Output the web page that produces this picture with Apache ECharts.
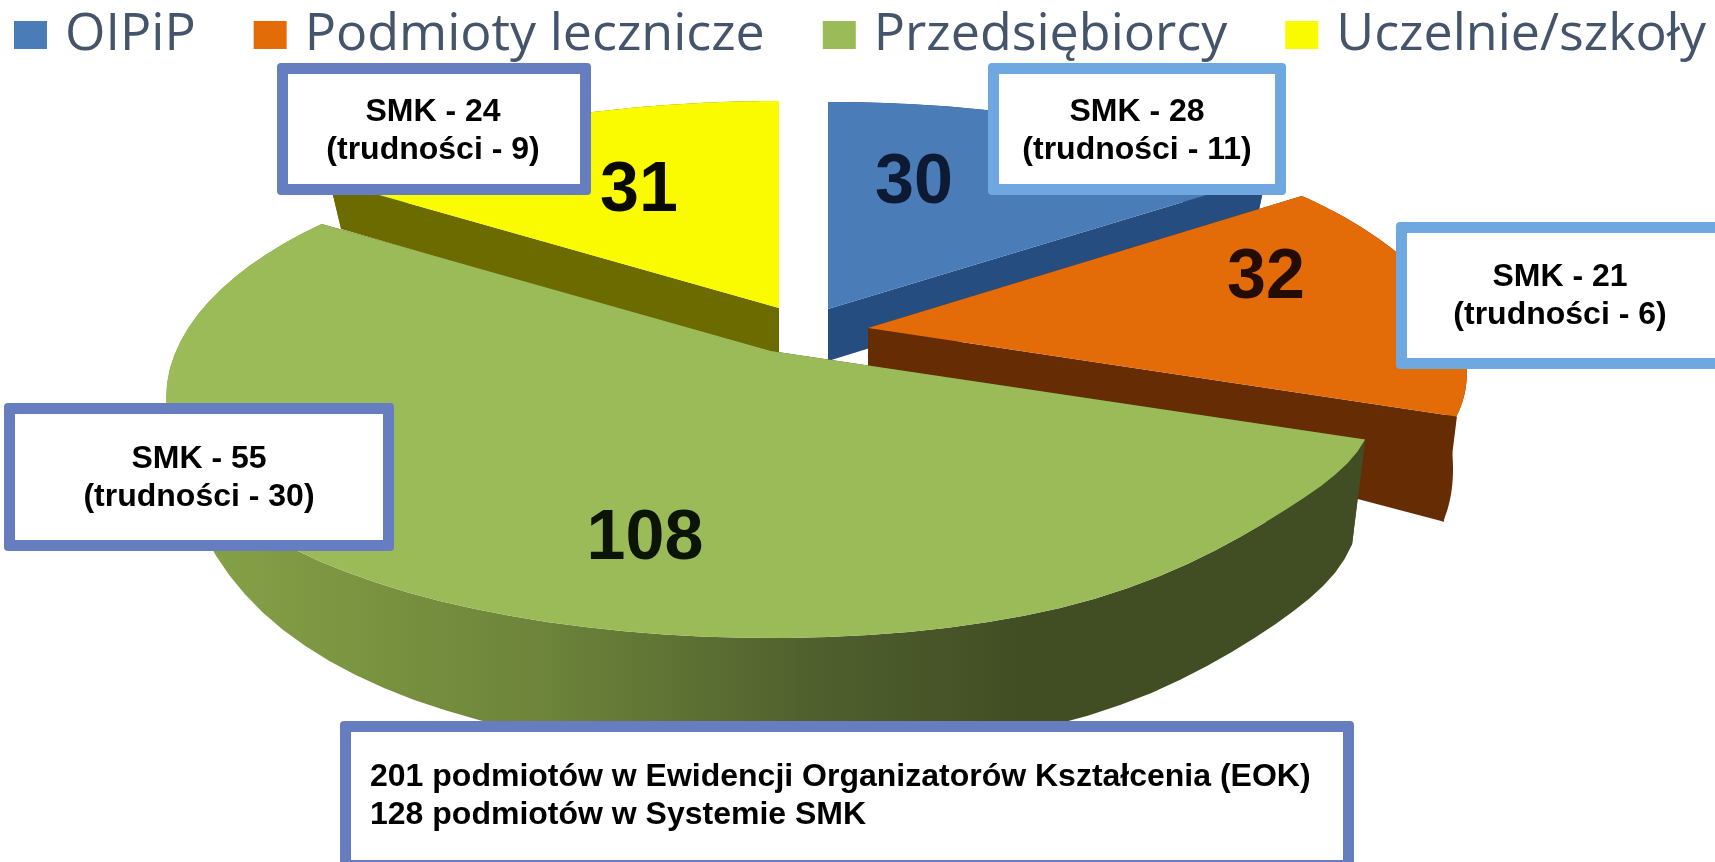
<!DOCTYPE html>
<html>
<head>
<meta charset="utf-8">
<style>html,body{margin:0;padding:0;background:#fff}#c{width:1715px;height:862px}</style>
<script src="https://cdn.jsdelivr.net/npm/echarts@6/dist/echarts.min.js"></script>
</head>
<body>
<div id="c"></div>
<script>
const categories = ['OIPiP', 'Podmioty lecznicze', 'Przedsiębiorcy', 'Uczelnie/szkoły'];
const values = [30, 32, 108, 31];
const smkCounts = [28, 21, 55, 24];
const difficulties = [11, 6, 30, 9];
const summaryLines = ['201 podmiotów w Ewidencji Organizatorów Kształcenia (EOK)', '128 podmiotów w Systemie SMK'];

const topColors = ['#4a7cb8', '#e36c09', '#9bbb59', '#fbfb00'];
const wallColors = ['#264d7f', '#662d04', '#414e24', '#6b6b00'];
const centers = [[828, 309], [868, 328], [771, 351], [779, 308]];
const spreads = [1, 0.99, 1, 1];
const wallBase = [52, 42, 42, 48];
const seriesZ = [2, 4, 5, 3];
const labelPos = [[914, 184], [1266, 279], [645, 540], [639, 192]];
const labelColors = ['#0c1a33', '#240c00', '#0b1405', '#0a0a00'];
const boxes = [
  {x: 988, y: 63, w: 298, h: 132, c: '#6fa8e0', tx: 1137, ty: [112, 150]},
  {x: 1396, y: 222, w: 330, h: 147, c: '#6fa8e0', tx: 1560, ty: [277, 315]},
  {x: 4, y: 403, w: 390, h: 148, c: '#667dc0', tx: 199, ty: [459, 497]},
  {x: 277, y: 63, w: 314, h: 132, c: '#667dc0', tx: 433, ty: [112, 150]}
];
const summaryBox = {x: 340, y: 721, w: 1014, h: 150, c: '#667dc0', tx: 370, ty: [777, 815]};

const total = values.reduce((a, b) => a + b, 0);
const clamp01 = t => Math.max(0, Math.min(1, t));
function topPoint(c, u, v, spread) {
  // the picture's view: a warped circle, with the front right of the rim slightly flattened
  const deg = Math.atan2(u, -v) * 180 / Math.PI;
  const flat = 18 * Math.exp(-Math.pow((deg - 131) / 18, 2));
  return [c[0] + spread * u * (595 + 105 * v + 30 * v * v), c[1] + 247 * v + 40 * v * v - flat];
}
function lowPoint(c, u, v, base, spread) {
  const p = topPoint(c, u, v, spread);
  const t = clamp01((1.3 * v + 0.4 * u) / 1.4);
  return [p[0] - 14 * u, p[1] + base + 75 * t * (2 - t)];
}
const greenSideFill = {
  type: 'linear', x: 158, y: 0, x2: 1360, y2: 0, global: true,
  colorStops: [
    {offset: 0, color: '#8aa74a'}, {offset: 0.04, color: '#85a146'},
    {offset: 0.32, color: '#6d843a'}, {offset: 0.55, color: '#4f5f2d'},
    {offset: 0.72, color: '#414e24'}, {offset: 1, color: '#414e24'}
  ]
};

function sliceRenderer(idx) {
  return function (params, api) {
    const before = values.slice(0, idx).reduce((a, b) => a + b, 0);
    const value = api.value(0);
    const a0 = before / total * 2 * Math.PI;
    const a1 = (before + value) / total * 2 * Math.PI;
    const c = centers[idx], base = wallBase[idx], spread = spreads[idx];
    const steps = 60, rim = [], low = [];
    for (let i = 0; i <= steps; i++) {
      const a = a0 + (a1 - a0) * i / steps;
      const u = Math.sin(a), v = -Math.cos(a);
      rim.push(topPoint(c, u, v, spread));
      low.push(lowPoint(c, u, v, base, spread));
    }
    const apexLow = [c[0], c[1] + base];
    const wall = wallColors[idx];
    const poly = (pts, fill) => ({type: 'polygon', shape: {points: pts}, style: {fill: fill}});
    const children = [
      poly([c, rim[0], low[0], apexLow], wall),
      poly([c, rim[steps], low[steps], apexLow], wall),
      poly(rim.concat(low.slice().reverse()), idx === 2 ? greenSideFill : wall)
    ];
    // close the hairline where the front radial wall meets the outer wall
    if (idx !== 2 && -Math.cos(a1) > 0) {
      children.push({
        type: 'line',
        shape: {x1: rim[steps][0], y1: rim[steps][1], x2: low[steps][0], y2: low[steps][1]},
        style: {stroke: wall, lineWidth: 1.5}
      });
    }
    children.push(poly([c].concat(rim), topColors[idx]));
    children.push({type: 'text', style: {
      text: String(value), x: labelPos[idx][0], y: labelPos[idx][1],
      align: 'center', verticalAlign: 'middle',
      font: 'bold 70px "Liberation Sans", Arial, sans-serif', fill: labelColors[idx]
    }});
    return {type: 'group', children: children};
  };
}

function boxGraphics(b, lines, align) {
  const t = 11;
  const els = [
    {type: 'rect', z: 100, shape: {x: b.x, y: b.y, width: b.w, height: b.h, r: 4}, style: {fill: b.c}},
    {type: 'rect', z: 101, shape: {x: b.x + t, y: b.y + t, width: b.w - 2 * t, height: b.h - 2 * t}, style: {fill: '#fff'}}
  ];
  lines.forEach((s, i) => els.push({
    type: 'text', z: 102,
    style: {text: s, x: b.tx, y: b.ty[i], align: align, verticalAlign: 'middle',
      font: 'bold 32px "Liberation Sans", Arial, sans-serif', fill: '#000'}
  }));
  return els;
}

let graphics = [];
boxes.forEach((b, i) => {
  graphics = graphics.concat(boxGraphics(b, ['SMK - ' + smkCounts[i], '(trudności - ' + difficulties[i] + ')'], 'center'));
});
graphics = graphics.concat(boxGraphics(summaryBox, summaryLines, 'left'));

const chart = echarts.init(document.getElementById('c'), null, {renderer: 'canvas'});
chart.setOption({
  animation: false,
  backgroundColor: '#fff',
  legend: {
    left: 14, top: 9, padding: 0, itemGap: 58, itemWidth: 33, itemHeight: 28, icon: 'rect',
    selectedMode: false,
    data: categories,
    textStyle: {
      fontFamily: '"Open Sans", sans-serif', fontSize: 52, color: '#44546a',
      padding: [0, 0, 0, 13]
    }
  },
  graphic: graphics,
  series: categories.map((name, i) => ({
    type: 'custom', name: name, coordinateSystem: 'none', z: seriesZ[i], silent: true,
    itemStyle: {color: topColors[i]},
    data: [[values[i]]],
    renderItem: sliceRenderer(i)
  }))
});
</script>
</body>
</html>
